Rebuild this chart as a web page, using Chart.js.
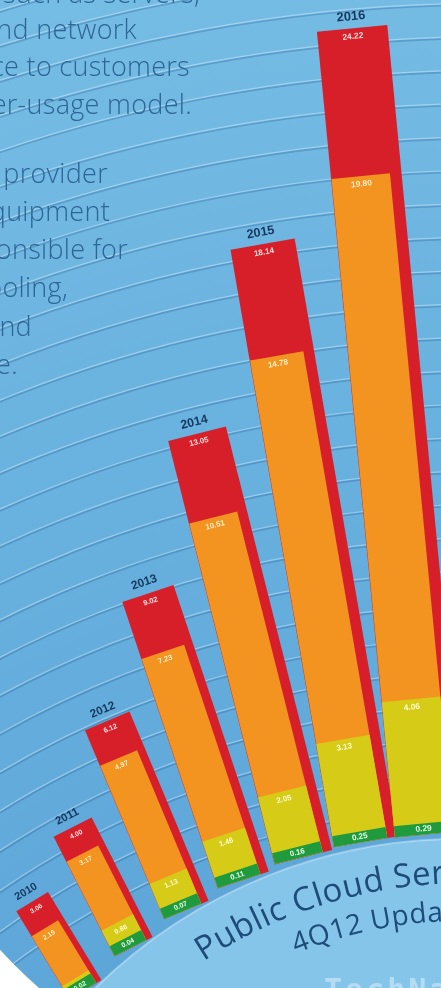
<!DOCTYPE html>
<html>
<head>
<meta charset="utf-8">
<script src="https://cdn.jsdelivr.net/npm/chart.js@4.4.1/dist/chart.umd.min.js"></script>
<style>
html,body{margin:0;padding:0;width:441px;height:988px;overflow:hidden;background:#6cb4e0;}
#wrap{position:relative;width:441px;height:988px;overflow:hidden;}
#c{position:absolute;left:0;top:0;}
.ln{position:absolute;white-space:nowrap;font-family:'Open Sans',sans-serif;font-weight:300;font-size:27px;line-height:38px;height:38px;color:#2d6596;letter-spacing:0.3px;}
svg{position:absolute;left:0;top:0;}
</style>
</head>
<body>
<div id="wrap">
<canvas id="c" width="441" height="988"></canvas>
<div id="para"></div>
<svg width="441" height="988" viewBox="0 0 441 988">
  <defs>
    <path id="arc1" d="M 203.5 961.2 A 479 479 0 0 1 623.8 909.9"/>
    <path id="arc2" d="M 296.2 953.5 A 440 440 0 0 1 610.5 946.5"/>
  </defs>
  <text font-family="Open Sans, sans-serif" font-size="33" fill="#1d4c7a" letter-spacing="0.5"><textPath href="#arc1">Public Cloud Services</textPath></text>
  <text font-family="Open Sans, sans-serif" font-size="28" fill="#1d4c7a" letter-spacing="0.5"><textPath href="#arc2">4Q12 Update</textPath></text>
  <text x="324" y="1000" font-family="DejaVu Sans Mono, monospace" font-weight="bold" font-size="30" fill="rgba(255,255,255,0.4)" letter-spacing="3">TechNavio</text>
</svg>
</div>
<script>
// ---------- data ----------
const years = ['2010', '2011', '2012', '2013', '2014', '2015', '2016'];
const totalValues  = [3.06, 4.00, 6.12, 9.02, 13.05, 18.14, 24.22];
const orangeValues = [2.19, 3.17, 4.97, 7.23, 10.51, 14.78, 19.80];
const yellowValues = [0.44, 0.86, 1.13, 1.46, 2.05, 3.13, 4.06];
const greenValues  = [0.02, 0.04, 0.07, 0.11, 0.16, 0.25, 0.29];
const yMax = 25;
const gridStep = 1;

// ---------- paragraph text (cut off at the left edge) ----------
const paraLines = [
  {t: 'such as servers,', end: 200, base: 4},
  {t: 'compute, storage and network', end: 137, base: 40},
  {t: 'delivered as a service to customers', end: 190, base: 77},
  {t: 'on a pay-per-usage model.', end: 192, base: 115},
  {t: 'The service provider', end: 108, base: 184},
  {t: 'owns the equipment', end: 110, base: 222},
  {t: 'and is responsible for', end: 128, base: 260},
  {t: 'housing, cooling,', end: 68, base: 298},
  {t: 'running and', end: 32, base: 337},
  {t: 'maintaining the service.', end: 18, base: 375}
];
const para = document.getElementById('para');
paraLines.forEach(l => {
  const d = document.createElement('div');
  d.className = 'ln';
  d.textContent = l.t;
  d.style.right = (441 - l.end) + 'px';
  d.style.top = (l.base - 30) + 'px';
  para.appendChild(d);
});

// ---------- arc layout ----------
const BASE = {cx: 460, cy: 1360, r: 527};
const GRID = {cx: 490, cy: 1600, r0: 760};
function barPivot(i, n) {
  const k = n - 1 - i;
  const phi = (3.3 + 7 * k) * Math.PI / 180;
  return {x: BASE.cx - BASE.r * Math.sin(phi), y: BASE.cy - BASE.r * Math.cos(phi)};
}
function barTilt(i, n) { return (5.5 + 4.3 * (n - 1 - i)) * Math.PI / 180; }
function barWidthScale(i, n) { return 1.11 - 0.088 * (n - 1 - i); }

class ArcBarController extends Chart.BarController {
  draw() {
    const chart = this.chart;
    const ctx = chart.ctx;
    const meta = this._cachedMeta;
    const ds = this.getDataset();
    const ref = chart.getDatasetMeta(chart.data.datasets.length - 1);
    const n = meta.data.length;
    meta.data.forEach((el, i) => {
      const W = ref.data[i].width;
      const w = el.width;
      const p = barPivot(i, n), th = barTilt(i, n), s = barWidthScale(i, n);
      ctx.save();
      ctx.translate(p.x, p.y);
      ctx.rotate(-th);
      ctx.save();
      ctx.scale(s, 1);
      ctx.translate(-(el.x - w / 2) - W / 2, -el.base);
      el.draw(ctx);
      ctx.restore();
      const h = el.base - el.y;
      const cx = (-W / 2 + w / 2) * s;
      const fs = 8 * (0.6 + 0.4 * s);
      ctx.font = 'bold ' + fs.toFixed(1) + 'px "Liberation Sans", Arial, sans-serif';
      ctx.textAlign = 'center';
      ctx.textBaseline = 'middle';
      ctx.fillStyle = ds.valueColor;
      const ly = ds.labelMid ? -h / 2 : -h + 8;
      ctx.fillText(ds.data[i].toFixed(2), cx, ly);
      if (ds.showYear) {
        const yfs = 12.5 * (0.7 + 0.3 * s);
        ctx.font = 'bold ' + yfs.toFixed(1) + 'px "Liberation Sans", Arial, sans-serif';
        ctx.fillStyle = '#16385e';
        ctx.fillText(years[i], 0, -h - 12);
      }
      ctx.restore();
    });
  }
}
ArcBarController.id = 'arcBar';
ArcBarController.defaults = Chart.BarController.defaults;
Chart.register(ArcBarController);

const backdrop = {
  id: 'backdrop',
  beforeDatasetsDraw(chart) {
    const {ctx, width, height} = chart;
    const y = chart.scales.y;
    ctx.save();
    const g = ctx.createRadialGradient(GRID.cx, GRID.cy, GRID.r0 - 100, GRID.cx, GRID.cy, GRID.r0 + 900);
    g.addColorStop(0, '#5ba4d7');
    g.addColorStop(1, '#76bde5');
    ctx.fillStyle = g;
    ctx.fillRect(0, 0, width, height);
    const zero = y.getPixelForValue(0);
    for (let v = gridStep; v <= 34; v += gridStep) {
      const r = GRID.r0 + (zero - y.getPixelForValue(v));
      ctx.beginPath();
      ctx.arc(GRID.cx, GRID.cy, r, 0, 2 * Math.PI);
      ctx.strokeStyle = 'rgba(35,90,145,0.30)';
      ctx.lineWidth = 1.6;
      ctx.stroke();
      ctx.beginPath();
      ctx.arc(GRID.cx, GRID.cy, r + 1.8, 0, 2 * Math.PI);
      ctx.strokeStyle = 'rgba(235,248,255,0.38)';
      ctx.lineWidth = 1.2;
      ctx.stroke();
    }
    // lighter inner disk below the bars
    ctx.beginPath();
    ctx.arc(BASE.cx, BASE.cy, BASE.r - 6, 0, 2 * Math.PI);
    ctx.fillStyle = '#86c5ea';
    ctx.fill();
    ctx.strokeStyle = 'rgba(255,255,255,0.35)';
    ctx.lineWidth = 2;
    ctx.stroke();
    // white corner
    ctx.beginPath();
    ctx.rect(0, 0, width, height);
    ctx.arc(420, 560, 573, 0, 2 * Math.PI, true);
    ctx.clip();
    ctx.fillStyle = '#ffffff';
    ctx.fillRect(0, 880, 120, 108);
    ctx.restore();
  }
};

const common = {categoryPercentage: 1, grouped: false, clip: false, borderWidth: 0};
new Chart(document.getElementById('c'), {
  type: 'arcBar',
  data: {
    labels: years,
    datasets: [
      Object.assign({label: 'Segment D', data: greenValues, backgroundColor: '#1f9a3d', barPercentage: 0.84, minBarLength: 11, valueColor: '#e6ffe6', labelMid: true}, common),
      Object.assign({label: 'Segment C', data: yellowValues, backgroundColor: '#d6cc17', barPercentage: 0.84, valueColor: '#fffbd2'}, common),
      Object.assign({label: 'Segment B', data: orangeValues, backgroundColor: '#f39320', barPercentage: 0.84, valueColor: '#ffefc6'}, common),
      Object.assign({label: 'Total', data: totalValues, backgroundColor: '#d71f2a', barPercentage: 1, valueColor: '#ffdede', showYear: true}, common)
    ]
  },
  options: {
    responsive: false,
    animation: false,
    layout: {padding: {top: 0, bottom: 153, left: 0, right: 0}},
    scales: {
      x: {type: 'category', display: false},
      y: {type: 'linear', display: false, min: 0, max: yMax, ticks: {stepSize: gridStep}}
    },
    plugins: {legend: {display: false}, tooltip: {enabled: false}}
  },
  plugins: [backdrop]
});
</script>
</body>
</html>
